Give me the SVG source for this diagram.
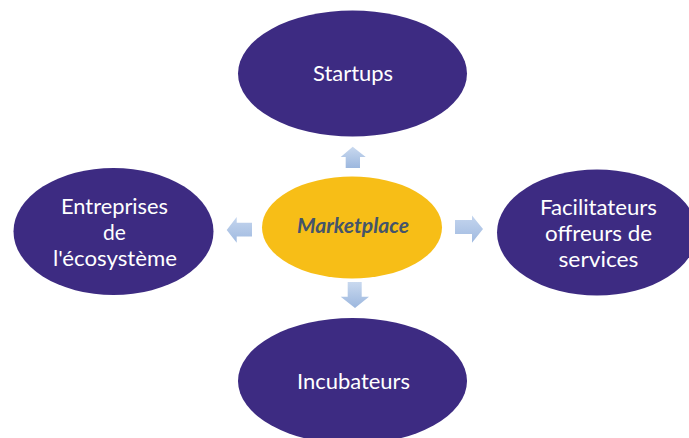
<svg xmlns="http://www.w3.org/2000/svg" width="689" height="438" viewBox="0 0 689 438">
  <defs>
    <linearGradient id="arrowFill" x1="0" y1="0" x2="0" y2="1">
      <stop offset="0" stop-color="#C9D9EF"/>
      <stop offset="1" stop-color="#9CB7DE"/>
    </linearGradient>
    <linearGradient id="arrowFillH" x1="0" y1="0" x2="0" y2="1">
      <stop offset="0" stop-color="#C4D5EE"/>
      <stop offset="1" stop-color="#A0BAE0"/>
    </linearGradient>
  </defs>
  <style>
    .node { fill: #3D2B82; }
    .hub { fill: #F7BE17; }
    .label { font-family: Lato, "Open Sans", "Liberation Sans", sans-serif; font-size: 21px; fill: #FFFFFF; text-anchor: middle; }
    .hub-label { font-family: Lato, "Open Sans", "Liberation Sans", sans-serif; font-size: 20px; font-weight: bold; font-style: italic; fill: #44546A; text-anchor: middle; }
    .arrow { fill: url(#arrowFill); }
    .arrow-h { fill: url(#arrowFillH); }
  </style>
  <rect width="689" height="438" fill="#FFFFFF"/>

  <!-- block arrows pointing outward from the hub -->
  <g id="connectors">
    <polygon class="arrow" points="352.7,146.7 365.7,157 360,157 360,168 345.7,168 345.7,157 340.7,157"/>
    <polygon class="arrow" points="355,308 369,296.7 361.7,296.7 361.7,282 347.7,282 347.7,296.7 340.7,296.7"/>
    <polygon class="arrow-h" points="226.7,230 236.7,217 236.7,222.7 252,222.7 252,236.5 236.7,236.5 236.7,242.7"/>
    <polygon class="arrow-h" points="483,229 472,215.5 472,220 455,220 455,234 472,234 472,242.7"/>
  </g>

  <g id="startups">
    <ellipse class="node" cx="352.5" cy="73.5" rx="114.5" ry="63"/>
    <text class="label" x="353" y="81" textLength="80" lengthAdjust="spacingAndGlyphs">Startups</text>
  </g>

  <g id="incubateurs">
    <ellipse class="node" cx="352.5" cy="381" rx="114.5" ry="63"/>
    <text class="label" x="353.5" y="389" textLength="113" lengthAdjust="spacingAndGlyphs">Incubateurs</text>
  </g>

  <g id="entreprises">
    <ellipse class="node" cx="113.5" cy="231.5" rx="100" ry="63.5"/>
    <text class="label" x="114.5" y="213.5" textLength="107" lengthAdjust="spacingAndGlyphs">Entreprises</text>
    <text class="label" x="114.5" y="240">de</text>
    <text class="label" x="115" y="266" textLength="124" lengthAdjust="spacingAndGlyphs">l'écosystème</text>
  </g>

  <g id="facilitateurs">
    <ellipse class="node" cx="597" cy="232.5" rx="100" ry="63"/>
    <text class="label" x="598.5" y="214.5" textLength="117" lengthAdjust="spacingAndGlyphs">Facilitateurs</text>
    <text class="label" x="598.5" y="240.5" textLength="107" lengthAdjust="spacingAndGlyphs">offreurs de</text>
    <text class="label" x="598.5" y="266.5" textLength="80" lengthAdjust="spacingAndGlyphs">services</text>
  </g>

  <g id="marketplace">
    <ellipse class="hub" cx="352" cy="227.5" rx="90" ry="51"/>
    <text class="hub-label" x="353" y="233" textLength="112" lengthAdjust="spacingAndGlyphs">Marketplace</text>
  </g>
</svg>
